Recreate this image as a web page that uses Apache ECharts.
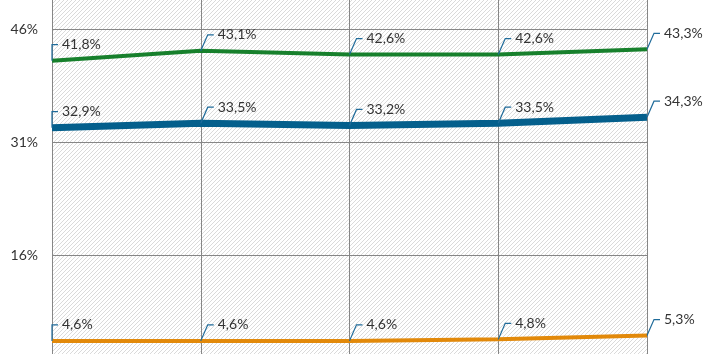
<!DOCTYPE html>
<html>
<head>
<meta charset="utf-8">
<script src="https://cdn.jsdelivr.net/npm/echarts@6/dist/echarts.min.js"></script>
<style>
  html, body { margin: 0; padding: 0; background: #fff; }
  #chart { width: 707px; height: 354px; }
</style>
</head>
<body>
<div id="chart"></div>
<script>
// 数据
var categories = ['1', '2', '3', '4', '5'];
var greenData = [41.8, 43.1, 42.6, 42.6, 43.3];
var blueData = [32.9, 33.5, 33.2, 33.5, 34.3];
var orangeData = [4.6, 4.6, 4.6, 4.8, 5.3];
var yMin = 1, yMax = 61, yStep = 15;

// 背景斜线
function makeHatch() {
    var c = document.createElement('canvas');
    c.width = 4;
    c.height = 4;
    var ctx = c.getContext('2d');
    ctx.fillStyle = '#fff';
    ctx.fillRect(0, 0, 4, 4);
    ctx.strokeStyle = '#dadada';
    ctx.lineWidth = 1;
    ctx.beginPath();
    ctx.moveTo(-1, 5);
    ctx.lineTo(5, -1);
    ctx.stroke();
    return c;
}

function fmt(v) {
    return v.toFixed(1).replace('.', ',') + '%';
}

// 标签 + 引导线
function labelSeries(data) {
    return {
        type: 'custom',
        data: data,
        silent: true,
        z: 5,
        renderItem: function (params, api) {
            var i = api.value(0);
            var p = api.coord([i, api.value(1)]);
            var dx = i === 0 ? 0 : 7;
            var up = 16;
            return {
                type: 'group',
                children: [{
                    type: 'polyline',
                    shape: {points: [[p[0], p[1]], [p[0] + dx, p[1] - up], [p[0] + dx + 6, p[1] - up]]},
                    style: {stroke: '#1f6b9a', lineWidth: 1.2, fill: null}
                }, {
                    type: 'text',
                    x: p[0] + dx + 10,
                    y: p[1] - up,
                    style: {
                        text: fmt(api.value(1)),
                        fill: '#333',
                        font: '14px Lato',
                        verticalAlign: 'middle',
                        align: 'left'
                    }
                }]
            };
        },
        encode: {x: 0, y: 1}
    };
}

function pairs(arr) {
    return arr.map(function (v, i) { return [i, v]; });
}

var chart = echarts.init(document.getElementById('chart'));
var option = {
    animation: false,
    grid: {
        left: 52,
        right: 60,
        top: -84,
        bottom: -14,
        outerBoundsMode: 'none',
        containLabel: false,
        show: true,
        borderWidth: 0,
        backgroundColor: {image: makeHatch(), repeat: 'repeat'}
    },
    xAxis: {
        type: 'category',
        data: categories,
        boundaryGap: false,
        axisLine: {show: false},
        axisTick: {show: false},
        axisLabel: {show: false},
        splitLine: {show: true, lineStyle: {color: '#868686', width: 1}}
    },
    yAxis: {
        type: 'value',
        min: yMin,
        max: yMax,
        interval: yStep,
        axisLine: {show: true, lineStyle: {color: '#868686'}},
        axisTick: {show: false},
        axisLabel: {
            margin: 14,
            color: '#333',
            fontSize: 14,
            fontFamily: 'Lato',
            formatter: '{value}%'
        },
        splitLine: {show: true, lineStyle: {color: '#868686', width: 1}}
    },
    series: [{
        type: 'line',
        data: greenData,
        symbol: 'none',
        lineStyle: {color: '#17802c', width: 4}
    }, {
        type: 'line',
        data: blueData,
        symbol: 'none',
        lineStyle: {color: '#045f8c', width: 7}
    }, {
        type: 'line',
        data: orangeData,
        symbol: 'none',
        lineStyle: {color: '#e2890a', width: 4}
    },
        labelSeries(pairs(greenData)),
        labelSeries(pairs(blueData)),
        labelSeries(pairs(orangeData))
    ]
};
chart.setOption(option);
</script>
</body>
</html>
